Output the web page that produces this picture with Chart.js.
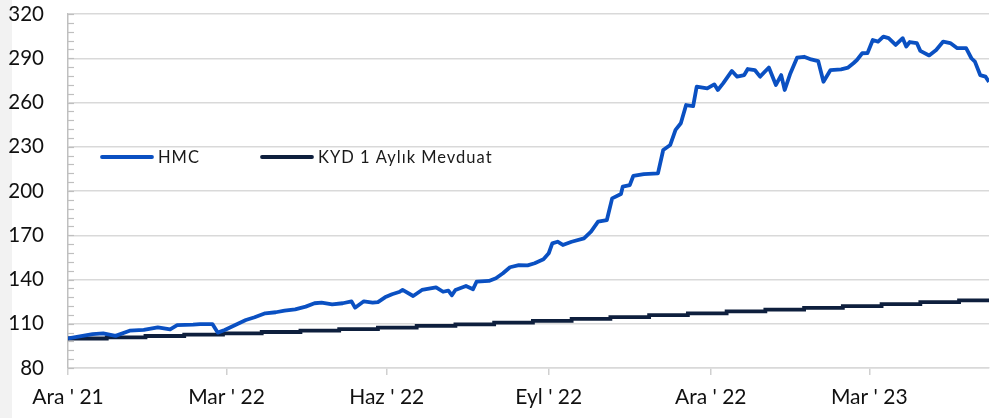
<!DOCTYPE html>
<html>
<head>
<meta charset="utf-8">
<script src="https://cdn.jsdelivr.net/npm/chart.js@4"></script>
<style>
    html, body { margin: 0; padding: 0; background: #ffffff; }
    #wrap { position: relative; width: 1000px; height: 418px; }
    #strip { position: absolute; left: 0; top: 0; width: 12px; height: 418px; background: #f2f2f2; }
    canvas { position: absolute; left: 0; top: 0; }
</style>
</head>
<body>
<div id="wrap">
    <div id="strip"></div>
    <canvas id="chart" width="1000" height="418"></canvas>
</div>
<script>
"use strict";

// Days counted from 1 Dec 2021
const xTickDays = [0, 90, 181, 273, 365, 455];
const xTickLabels = ["Ara ' 21", "Mar ' 22", "Haz ' 22", "Eyl ' 22", "Ara ' 22", "Mar ' 23"];

// HMC fund index
const hmcDays = [
    0, 14, 20, 27, 35, 43, 51, 58, 62, 71, 75, 82, 85, 89, 95, 101, 106, 112, 118, 123,
    129, 135, 140, 144, 150, 156, 161, 163, 168, 173, 176, 180, 184, 188, 190, 196, 201, 209, 213, 216,
    218, 220, 226, 230, 232, 239, 243, 247, 251, 256, 261, 265, 270, 273, 275, 278, 281, 286, 293, 297,
    301, 306, 309, 314, 315, 319, 321, 327, 335, 338, 342, 345, 348, 351, 355, 357, 363, 367, 369, 372,
    377, 380, 384, 386, 390, 393, 398, 402, 405, 407, 410, 414, 418, 422, 426, 429, 433, 439, 443, 446,
    448, 451, 454, 457, 460, 463, 466, 470, 474, 476, 478, 482, 484, 489, 493, 497, 501, 505, 510, 513,
    515, 518, 521, 523
];
const hmcValues = [
    100.0, 103.0, 103.5, 101.8, 105.3, 105.8, 107.6, 106.2, 109.0, 109.4, 109.8, 109.8, 104.0, 105.8, 109.2, 112.5, 114.4, 117.1, 117.8, 118.9,
    119.8, 121.6, 123.9, 124.3, 123.2, 123.9, 125.2, 120.9, 125.2, 124.3, 124.7, 127.9, 130.0, 131.5, 132.9, 128.8, 132.9, 134.7, 131.7, 132.4,
    129.3, 132.9, 135.6, 133.4, 138.5, 139.0, 140.8, 144.2, 148.3, 149.8, 149.6, 151.0, 153.7, 157.8, 164.5, 165.6, 163.4, 165.6, 167.9, 172.4,
    179.2, 180.3, 195.0, 198.0, 202.9, 204.0, 210.2, 211.5, 212.0, 227.8, 231.2, 241.4, 245.9, 258.3, 257.6, 270.7, 269.6, 272.3, 268.5, 273.0,
    281.4, 277.5, 278.6, 282.7, 282.0, 277.5, 283.7, 271.9, 278.6, 268.5, 279.1, 290.4, 291.0, 289.2, 288.1, 274.1, 282.0, 282.5, 283.7, 286.6,
    288.8, 293.4, 293.5, 302.4, 301.3, 304.7, 303.6, 299.0, 303.6, 298.0, 301.0, 300.3, 295.0, 291.9, 295.6, 301.3, 300.3, 296.8, 296.8, 290.0,
    287.7, 278.6, 277.5, 274.0
];

// KYD 1 month deposit index, stepped at each roll-over
const kydDays = [0, 22, 44, 66, 88, 110, 132, 154, 176, 198, 220, 242, 264, 286, 308, 330, 352, 374, 396, 418, 440, 462, 484, 506, 523];
const kydValues = [
    100.0, 100.8, 101.7, 102.6, 103.5, 104.4, 105.4, 106.4, 107.4, 108.5, 109.6, 110.8, 112.0,
    113.3, 114.5, 115.8, 117.1, 118.4, 119.6, 120.8, 122.0, 123.3, 124.6, 125.8, 126.4
];

const seriesNames = ["HMC", "KYD 1 Aylık Mevduat"];
const seriesColors = ["#0a50c2", "#0e1f3d"];

const FONT = "Lato";

// Small minor ticks on the value axis + legend drawn inside the plot
const extrasPlugin = {
    id: "extras",
    afterDraw(chart) {
        const ctx = chart.ctx;
        const y = chart.scales.y;
        const left = chart.chartArea.left;
        ctx.save();
        ctx.strokeStyle = "#bfbfbf";
        ctx.lineWidth = 1.2;
        for (let v = y.min; v <= y.max; v += 6) {
            const py = Math.round(y.getPixelForValue(v)) + 0.5;
            ctx.beginPath();
            ctx.moveTo(left, py);
            ctx.lineTo(left + 6, py);
            ctx.stroke();
        }

        // Legend
        const items = [{ x: 100, label: seriesNames[0], color: seriesColors[0] },
                       { x: 260, label: seriesNames[1], color: seriesColors[1] }];
        const ly = 157;
        ctx.font = `16.5px ${FONT}`;
        ctx.letterSpacing = "1px";
        ctx.textBaseline = "middle";
        ctx.fillStyle = "#1a1a1a";
        items.forEach(it => {
            ctx.strokeStyle = it.color;
            ctx.lineWidth = 3.8;
            ctx.lineCap = "round";
            ctx.beginPath();
            ctx.moveTo(it.x + 2, ly);
            ctx.lineTo(it.x + 52, ly);
            ctx.stroke();
            ctx.fillText(it.label, it.x + 58, ly + 0.5);
        });
        ctx.restore();
    }
};

const config = {
    type: "line",
    data: {
        datasets: [
            {
                label: seriesNames[0],
                data: hmcDays.map((d, i) => ({ x: d, y: hmcValues[i] })),
                borderColor: seriesColors[0],
                borderWidth: 3.8,
                pointRadius: 0,
                tension: 0,
                borderJoinStyle: "round",
                order: 1
            },
            {
                label: seriesNames[1],
                data: kydDays.map((d, i) => ({ x: d, y: kydValues[i] })),
                borderColor: seriesColors[1],
                borderWidth: 3.8,
                pointRadius: 0,
                stepped: true,
                order: 2
            }
        ]
    },
    options: {
        responsive: false,
        animation: false,
        layout: { padding: { top: 14, right: 11, left: 0, bottom: 0 } },
        plugins: {
            legend: { display: false },
            tooltip: { enabled: false }
        },
        scales: {
            x: {
                type: "linear",
                min: 0,
                max: 523,
                afterBuildTicks: axis => { axis.ticks = xTickDays.map(v => ({ value: v })); },
                afterFit: axis => { axis.height = 50; axis.paddingLeft = 0; axis.paddingRight = 0; },
                ticks: {
                    autoSkip: false,
                    maxRotation: 0,
                    padding: 10,
                    color: "#111111",
                    font: { family: FONT, size: 21 },
                    callback: v => xTickLabels[xTickDays.indexOf(v)]
                },
                grid: {
                    drawOnChartArea: false,
                    tickLength: 7,
                    color: "#d0d0d0",
                    lineWidth: 1.5
                },
                border: { color: "#d9d9d9", width: 1.5 }
            },
            y: {
                min: 80,
                max: 320,
                afterFit: axis => { axis.width = 68; axis.paddingTop = 0; axis.paddingBottom = 0; },
                ticks: {
                    stepSize: 30,
                    padding: 24,
                    color: "#111111",
                    font: { family: FONT, size: 20.5 }
                },
                grid: {
                    color: "#d9d9d9",
                    lineWidth: 1.5,
                    drawTicks: false
                },
                border: { color: "#bfbfbf", width: 1.5 }
            }
        }
    },
    plugins: [extrasPlugin]
};

new Chart(document.getElementById("chart"), config);
</script>
</body>
</html>
